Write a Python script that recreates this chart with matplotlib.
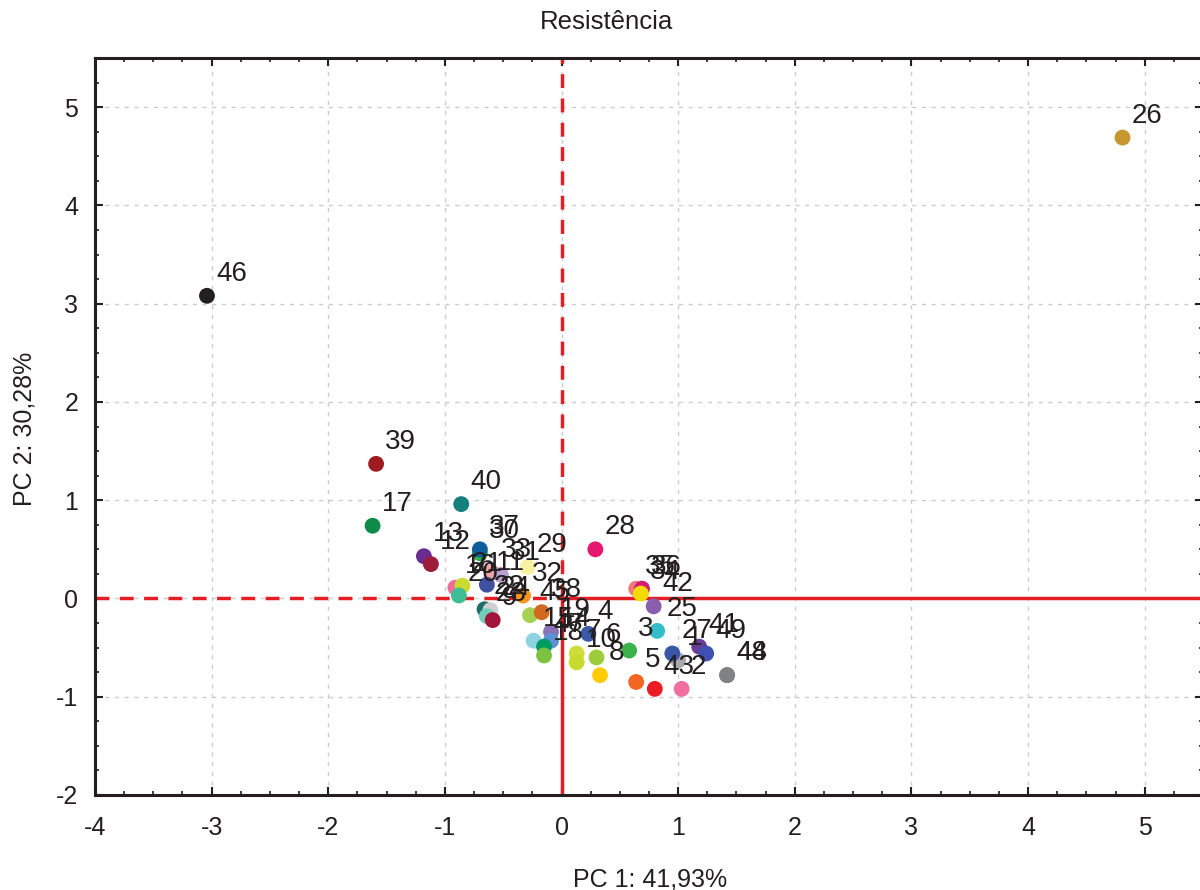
import matplotlib
matplotlib.use('Agg')
import matplotlib.pyplot as plt
from matplotlib.ticker import MultipleLocator, AutoMinorLocator

plt.rcParams['font.family'] = ['Liberation Sans', 'DejaVu Sans']
plt.rcParams['axes.unicode_minus'] = False

# PCA scores (case label, PC1, PC2)
labels = ['26', '46', '39', '17', '40', '28', '13', '12', '30', '37',
          '33', '31', '29', '16', '21', '20', '11', '22', '24', '23',
          '9', '32', '45', '38', '15', '19', '14', '47', '18', '6',
          '8', '3', '5', '43', '2', '1', '27', '41', '49', '44',
          '48', '25', '42', '35', '36', '34', '4', '7', '10']
pc1 = [4.81, -3.04, -1.59, -1.62, -0.86, 0.29, -1.18, -1.12, -0.70, -0.70,
       -0.60, -0.52, -0.29, -0.91, -0.85, -0.88, -0.64, -0.66, -0.61, -0.64,
       -0.59, -0.33, -0.27, -0.17, -0.24, -0.09, -0.09, -0.15, -0.15, 0.30,
       0.33, 0.58, 0.64, 0.80, 1.03, 1.00, 0.95, 1.18, 1.24, 1.42,
       1.42, 0.82, 0.79, 0.64, 0.69, 0.68, 0.23, 0.13, 0.13]
pc2 = [4.69, 3.08, 1.37, 0.74, 0.96, 0.50, 0.43, 0.35, 0.46, 0.50,
       0.27, 0.24, 0.32, 0.11, 0.13, 0.03, 0.14, -0.11, -0.12, -0.18,
       -0.22, 0.03, -0.17, -0.14, -0.43, -0.34, -0.43, -0.49, -0.58, -0.60,
       -0.78, -0.53, -0.85, -0.92, -0.92, -0.63, -0.56, -0.49, -0.56, -0.78,
       -0.78, -0.33, -0.08, 0.10, 0.10, 0.05, -0.36, -0.56, -0.65]
colors = ['#C8962E', '#231F20', '#9E1B20', '#0F8A4A', '#12807C', '#E5176F', '#6B2C91', '#9C1C3A', '#2DB34A', '#0E5E9C',
          '#F4A3A0', '#B8A2D2', '#F7F1A1', '#EF6D9A', '#CADB2F', '#3EBE94', '#4050A0', '#1A6F6D', '#CFCFCF', '#72CEB6',
          '#A3163B', '#F7941D', '#A7D054', '#D2691F', '#8DD4E2', '#8B71B6', '#5C92D3', '#009B62', '#7DC243', '#9CCB3B',
          '#FFCB05', '#3BB34A', '#F26522', '#ED1C24', '#F06FA0', '#A7A9AC', '#3A56A6', '#6B3D9B', '#3F51B1', '#808285',
          '#808285', '#34BDC8', '#8A5DAD', '#F07A7A', '#D51C74', '#F5DA00', '#3B5BAA', '#CDDD3A', '#C9DA2F']

title = 'Resistência'
xlabel = 'PC 1: 41,93%'
ylabel = 'PC 2: 30,28%'

fig = plt.figure(figsize=(12, 8.9), dpi=100)
ax = fig.add_axes([95 / 1200, 95 / 890, 1108 / 1200, 737 / 890])
ax.set_xlim(-4, 5.5)
ax.set_ylim(-2, 5.5)

# grid
ax.grid(True, which='major', color='#CCCCCC', linestyle=(0, (3, 4)), linewidth=1)
ax.set_axisbelow(True)

# red reference lines at origin: dashed on the negative-x / positive-y sides
red = '#E31E24'
ax.plot([-4, 0], [0, 0], color=red, lw=2.5, dashes=(4, 3), zorder=2)
ax.plot([0, 5.5], [0, 0], color=red, lw=2.5, zorder=2)
ax.plot([0, 0], [0, 5.5], color=red, lw=2.5, dashes=(4, 3), zorder=2)
ax.plot([0, 0], [-2, 0], color=red, lw=2.5, zorder=2)

ax.scatter(pc1, pc2, s=130, c=colors, edgecolors='none', zorder=3)
for lab, x, y in zip(labels, pc1, pc2):
    ax.annotate(lab, (x, y), xytext=(6.5, 10.8), textcoords='offset points',
                ha='left', va='baseline', fontsize=20, color='#231F20', zorder=4)

ax.xaxis.set_major_locator(MultipleLocator(1))
ax.yaxis.set_major_locator(MultipleLocator(1))
ax.xaxis.set_minor_locator(AutoMinorLocator(4))
ax.yaxis.set_minor_locator(AutoMinorLocator(4))
ax.tick_params(which='both', direction='in', top=True, right=True, color='#231F20')
ax.tick_params(which='major', length=6, width=1.5, labelsize=18, labelcolor='#231F20')
ax.tick_params(which='minor', length=3, width=1.2)
ax.tick_params(axis='x', which='major', pad=15)
ax.tick_params(axis='y', which='major', pad=12)

for sp in ax.spines.values():
    sp.set_linewidth(2.2)
    sp.set_color('#231F20')

fig.text(607 / 1200, 1 - 22 / 890, title, ha='center', va='center', fontsize=18.5, color='#231F20')
fig.text(650 / 1200, 1 - 880 / 890, xlabel, ha='center', va='center', fontsize=18, color='#231F20')
fig.text(25 / 1200, 1 - 429 / 890, ylabel, ha='center', va='center', rotation=90, fontsize=18, color='#231F20')

fig.savefig('out.png', dpi=100)
